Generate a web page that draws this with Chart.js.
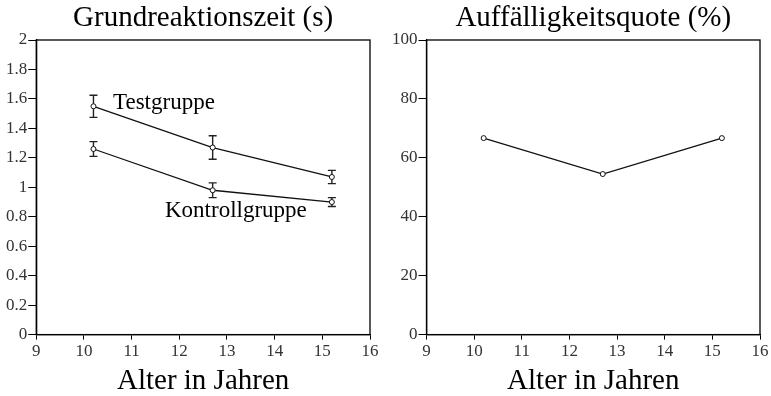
<!DOCTYPE html>
<html>
<head>
<meta charset="utf-8">
<script src="https://cdn.jsdelivr.net/npm/chart.js@4/dist/chart.umd.min.js"></script>
<style>
  html, body { margin: 0; padding: 0; background: #fff; }
  #wrap { position: relative; width: 771px; height: 396px; }
  #left { position: absolute; left: 0; top: 0; }
  #right { position: absolute; left: 385px; top: 0; }
</style>
</head>
<body>
<div id="wrap">
  <canvas id="left" width="385" height="396"></canvas>
  <canvas id="right" width="386" height="396"></canvas>
</div>
<script>
// age groups (mean age per group)
var ages = [10.2, 12.7, 15.2];

// base reaction time (s) with error bars
var testMeans = [1.55, 1.27, 1.07];
var testErrors = [0.075, 0.08, 0.045];
var controlMeans = [1.26, 0.98, 0.90];
var controlErrors = [0.05, 0.05, 0.03];

// abnormality rate (%)
var rateValues = [66.7, 54.5, 66.7];

// in-plot group labels: [x, y, text]
var groupLabels = [
  [10.61, 1.57, 'Testgruppe'],
  [11.70, 0.84, 'Kontrollgruppe']
];

var serif = "'Liberation Serif', 'Times New Roman', serif";

function toPoints(xs, ys) {
  return xs.map(function (x, i) { return { x: x, y: ys[i] }; });
}

// draws the frame around the plot area (top and right sides)
var boxPlugin = {
  id: 'box',
  afterDraw: function (chart) {
    var a = chart.chartArea, ctx = chart.ctx;
    ctx.save();
    ctx.strokeStyle = '#000';
    ctx.lineWidth = 1.3;
    ctx.strokeRect(a.left, a.top, a.right - a.left, a.bottom - a.top);
    ctx.restore();
  }
};

// vertical error bars with caps
var errorBarPlugin = {
  id: 'errorBars',
  beforeDatasetsDraw: function (chart) {
    var ctx = chart.ctx, xs = chart.scales.x, ys = chart.scales.y;
    ctx.save();
    ctx.strokeStyle = '#222';
    ctx.lineWidth = 1.4;
    chart.data.datasets.forEach(function (ds) {
      if (!ds.errors) return;
      ds.data.forEach(function (p, i) {
        var e = ds.errors[i];
        var px = xs.getPixelForValue(p.x);
        var top = ys.getPixelForValue(p.y + e);
        var bot = ys.getPixelForValue(p.y - e);
        ctx.beginPath();
        ctx.moveTo(px, top); ctx.lineTo(px, bot);
        ctx.moveTo(px - 4, top); ctx.lineTo(px + 4, top);
        ctx.moveTo(px - 4, bot); ctx.lineTo(px + 4, bot);
        ctx.stroke();
      });
    });
    ctx.restore();
  }
};

// text labels placed in data coordinates
var groupLabelPlugin = {
  id: 'groupLabels',
  afterDatasetsDraw: function (chart, args, opts) {
    if (!opts.items) return;
    var ctx = chart.ctx, xs = chart.scales.x, ys = chart.scales.y;
    ctx.save();
    ctx.fillStyle = '#000';
    ctx.font = '23px ' + serif;
    ctx.textAlign = 'left';
    ctx.textBaseline = 'middle';
    opts.items.forEach(function (l) {
      ctx.fillText(l[2], xs.getPixelForValue(l[0]), ys.getPixelForValue(l[1]));
    });
    ctx.restore();
  }
};

function lineDataset(points, errors) {
  return {
    data: points,
    errors: errors,
    showLine: true,
    borderColor: '#111',
    borderWidth: 1.3,
    pointRadius: 2.5,
    pointBackgroundColor: '#fff',
    pointBorderColor: '#111',
    pointBorderWidth: 1,
    tension: 0
  };
}

function makeOptions(title, yMin, yMax, yStep, pad, labels) {
  return {
    responsive: false,
    animation: false,
    layout: { padding: pad },
    plugins: {
      legend: { display: false },
      tooltip: { enabled: false },
      title: {
        display: true,
        text: title,
        fullSize: false,
        color: '#000',
        font: { family: serif, size: 29, weight: 'normal', lineHeight: 1.0 },
        padding: { top: 4, bottom: 7 }
      },
      groupLabels: { items: labels }
    },
    scales: {
      x: {
        type: 'linear',
        min: 9, max: 16,
        ticks: { stepSize: 1, color: '#333', font: { family: serif, size: 17 }, padding: 2 },
        grid: { drawOnChartArea: false, drawTicks: true, tickLength: 5, color: '#000' },
        border: { color: '#000', width: 1.3 },
        title: {
          display: true,
          text: 'Alter in Jahren',
          color: '#000',
          font: { family: serif, size: 29, weight: 'normal', lineHeight: 1.0 },
          padding: { top: 3, bottom: 0 }
        }
      },
      y: {
        min: yMin, max: yMax,
        ticks: {
          stepSize: yStep, color: '#333', font: { family: serif, size: 17 }, padding: 1,
          callback: function (v) { return String(Math.round(v * 10) / 10); }
        },
        grid: { drawOnChartArea: false, drawTicks: true, tickLength: 8, color: '#000' },
        border: { color: '#000', width: 1.3 }
      }
    }
  };
}

new Chart(document.getElementById('left'), {
  type: 'scatter',
  data: {
    datasets: [
      lineDataset(toPoints(ages, testMeans), testErrors),
      lineDataset(toPoints(ages, controlMeans), controlErrors)
    ]
  },
  options: makeOptions('Grundreaktionszeit (s)', 0, 2, 0.2,
    { left: 5, right: 15, top: 0, bottom: 0 }, groupLabels),
  plugins: [boxPlugin, errorBarPlugin, groupLabelPlugin]
});

new Chart(document.getElementById('right'), {
  type: 'scatter',
  data: {
    datasets: [lineDataset(toPoints(ages, rateValues), null)]
  },
  options: makeOptions('Auffälligkeitsquote (%)', 0, 100, 20,
    { left: 6, right: 11, top: 0, bottom: 0 }, null),
  plugins: [boxPlugin, errorBarPlugin, groupLabelPlugin]
});
</script>
</body>
</html>
